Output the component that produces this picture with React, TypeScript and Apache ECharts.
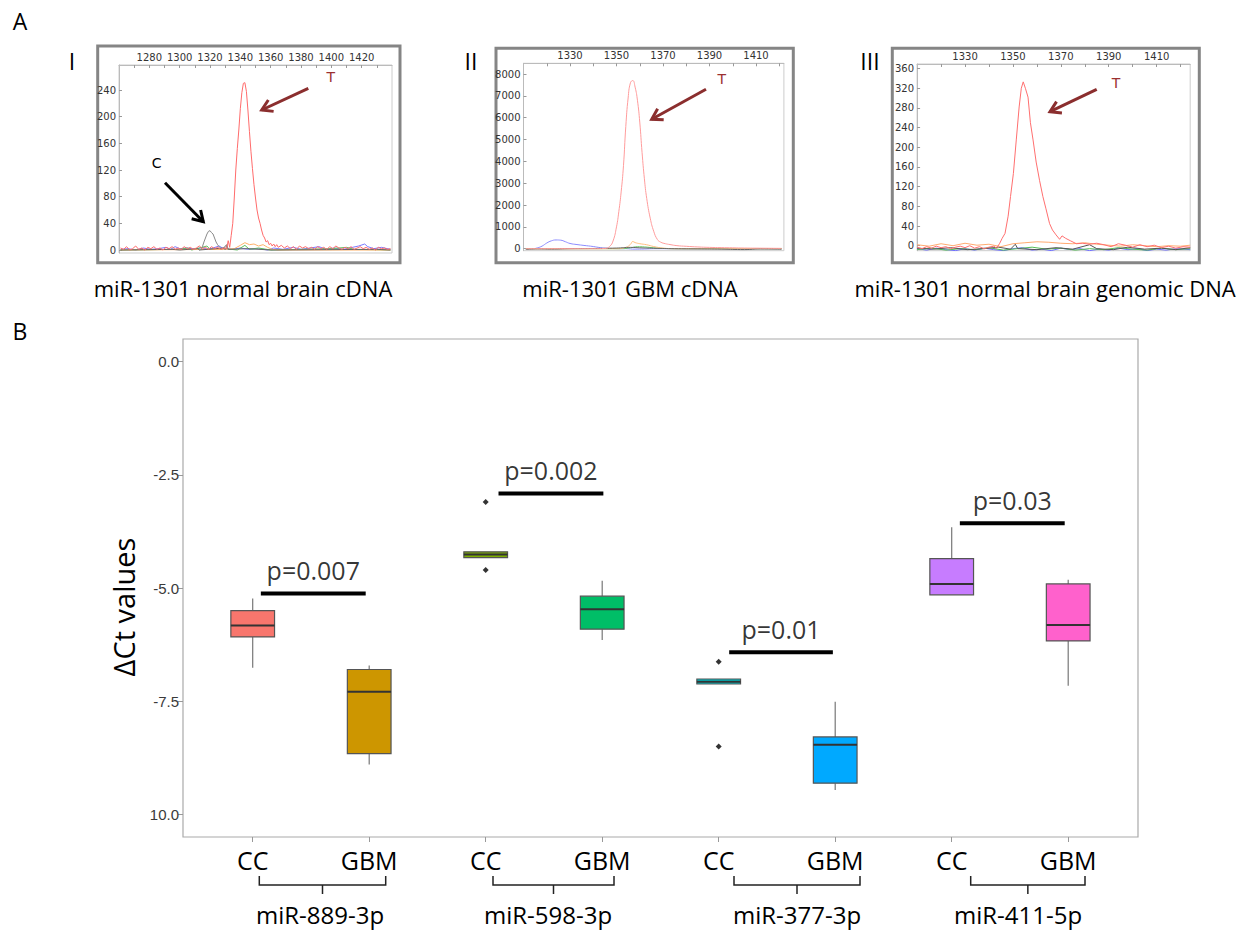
import React, { useEffect, useRef } from "react";
import * as echarts from "echarts";

// ---------- Panel B data ----------
const groups = ["miR-889-3p", "miR-598-3p", "miR-377-3p", "miR-411-5p"];
const categories = ["CC", "GBM", "CC", "GBM", "CC", "GBM", "CC", "GBM"];
const boxMin = [-6.76, -8.9, -4.33, -6.15, -7.12, -9.46, -5.15, -7.16];
const boxQ1 = [-6.08, -8.66, -4.33, -5.91, -7.12, -9.31, -5.15, -6.17];
const boxMedian = [-5.83, -7.29, -4.26, -5.47, -7.07, -8.46, -4.91, -5.82];
const boxQ3 = [-5.5, -6.8, -4.2, -5.18, -7.01, -8.29, -4.35, -4.91];
const boxMax = [-5.23, -6.71, -4.2, -4.84, -7.01, -7.51, -3.66, -4.82];
const outlierCat = [2, 2, 4, 4];
const outlierVal = [-3.1, -4.6, -6.63, -8.5];
const pTexts = ["p=0.007", "p=0.002", "p=0.01", "p=0.03"];
const pBarY = [-5.12, -2.91, -6.42, -3.57];
const pBarStart = [0.07, 2.11, 4.09, 6.07];
const pBarEnd = [0.97, 3.01, 4.98, 6.97];
const yTicksB = [0, -2.5, -5, -7.5, -10];

// ---------- Panel A data (position, intensity) ----------
const xLabelsI = [1280, 1300, 1320, 1340, 1360, 1380, 1400, 1420];
const yLabelsI = [0, 40, 80, 120, 160, 200, 240];
const xLabelsII = [1330, 1350, 1370, 1390, 1410];
const yLabelsII = [0, 1000, 2000, 3000, 4000, 5000, 6000, 7000, 8000];
const xLabelsIII = [1330, 1350, 1370, 1390, 1410];
const yLabelsIII = [0, 40, 80, 120, 160, 200, 240, 280, 320, 360];

const redI = [[1261,3],[1263,1],[1265,5],[1267,0],[1269,2],[1271,6],[1273,1],[1275,3],[1277,0],[1279,4],[1281,2],[1283,5],[1285,1],[1287,3],[1289,0],[1291,4],[1293,2],[1295,5],[1297,1],[1299,3],[1301,1],[1303,5],[1305,2],[1307,4],[1309,1],[1311,3],[1313,6],[1315,2],[1317,4],[1319,1],[1321,5],[1323,2],[1325,4],[1327,1],[1329,3],[1331,2],[1332,14],[1333,4],[1334,22],[1335,40],[1336,78],[1337,120],[1338,152],[1339,180],[1340,212],[1341,236],[1342,250],[1343,251],[1344,238],[1345,210],[1346,178],[1347,148],[1348,122],[1349,98],[1350,78],[1351,60],[1352,48],[1353,40],[1354,30],[1355,22],[1356,18],[1357,12],[1358,14],[1359,8],[1360,10],[1361,6],[1362,9],[1363,5],[1364,8],[1365,4],[1367,7],[1369,3],[1371,6],[1373,2],[1375,5],[1377,1],[1379,6],[1381,3],[1383,5],[1385,2],[1387,4],[1389,1],[1391,5],[1393,2],[1395,4],[1397,1],[1399,5],[1401,2],[1403,6],[1405,3],[1407,1],[1409,4],[1411,2],[1413,5],[1415,1],[1417,3],[1419,5],[1421,2],[1423,4],[1425,1],[1427,3],[1429,0],[1431,4],[1433,2],[1435,3],[1437,1],[1439,2]];
const grayI = [[1313,0],[1314,1],[1315,5],[1316,12],[1317,18],[1318,24],[1319,28],[1320,29],[1321,26],[1322,24],[1323,18],[1324,12],[1325,8],[1326,5],[1327,3],[1328,1],[1329,4],[1330,0],[1331,6],[1332,1]];
const blueI = [[1261,1],[1266,2],[1271,0],[1276,3],[1281,1],[1286,2],[1291,4],[1294,1],[1297,5],[1300,2],[1305,3],[1310,1],[1315,4],[1318,1],[1322,3],[1326,6],[1329,2],[1335,1],[1340,3],[1345,1],[1352,2],[1358,0],[1362,3],[1368,1],[1375,4],[1380,1],[1386,3],[1392,5],[1396,1],[1402,3],[1408,1],[1414,4],[1418,6],[1422,9],[1424,5],[1428,2],[1433,4],[1439,1]];
const greenI = [[1261,0],[1300,1],[1305,3],[1308,0],[1318,6],[1320,1],[1330,2],[1338,0],[1343,7],[1346,1],[1352,3],[1360,0],[1400,2],[1410,4],[1415,1],[1439,0]];
const orangeI = [[1261,0],[1330,1],[1336,2],[1340,7],[1343,11],[1346,8],[1349,9],[1352,6],[1355,8],[1358,4],[1361,1],[1365,0],[1439,0]];
const blackI = [[1261,0],[1295,1],[1300,0],[1312,2],[1313,0],[1329,3],[1331,8],[1332,1],[1345,2],[1360,0],[1430,1],[1439,0]];

const redII = [[1311,0],[1320,0],[1330,0],[1340,0],[1345,10],[1347,100],[1348.5,350],[1350,1000],[1351,1700],[1352,2600],[1353,3800],[1354,5600],[1355,6900],[1356,7600],[1357,7700],[1358,7400],[1359,6800],[1360,5800],[1361,4400],[1362,3200],[1363,2300],[1364.5,1400],[1366,800],[1367.6,420],[1369,300],[1371,230],[1373,190],[1376,140],[1380,110],[1385,80],[1390,60],[1395,50],[1400,40],[1405,30],[1410,25],[1415,20],[1421,15]];
const blueII = [[1311,0],[1314,0],[1316,40],[1318,120],[1320,260],[1322,360],[1324,400],[1326,390],[1328,320],[1330,240],[1333,190],[1336,150],[1340,100],[1343,50],[1346,20],[1350,5],[1354,0],[1358,-20],[1362,-15],[1366,0],[1421,0]];
const orangeII = [[1311,0],[1350,0],[1354,60],[1356,200],[1357,330],[1358,280],[1360,230],[1363,180],[1366,100],[1370,30],[1375,0],[1421,0]];
const greenII = [[1311,0],[1352,0],[1356,40],[1359,90],[1362,80],[1366,40],[1370,10],[1380,0],[1421,0]];
const blackII = [[1311,-30],[1316,-10],[1322,-20],[1330,0],[1340,10],[1350,30],[1356,60],[1360,40],[1366,20],[1375,0],[1385,-10],[1395,-20],[1405,-40],[1412,-10],[1421,-20]];

const redIII = [[1310,-3],[1312,-6],[1314,-2],[1316,-5],[1318,-1],[1320,-4],[1322,-2],[1324,-6],[1326,-3],[1328,-1],[1330,-4],[1332,0],[1334,-5],[1336,-2],[1338,-6],[1340,-3],[1342,-1],[1343.2,-5],[1344.5,5],[1345.5,15],[1346.7,25],[1348,60],[1349,100],[1350.2,147],[1351.4,215],[1352.6,282],[1353.5,320],[1354.3,333],[1355.2,320],[1356.3,302],[1357.3,250],[1358.4,215],[1359.7,170],[1361.1,133],[1362.5,100],[1363.8,75],[1365.3,45],[1366.5,32],[1368,22],[1369.5,13],[1370.5,20],[1372,15],[1374,10],[1376.5,4],[1379,5],[1382,3],[1385,5],[1388,2],[1391,-2],[1394,4],[1397,1],[1400,-3],[1403,2],[1406,-2],[1409,1],[1412,-4],[1415,-1],[1418,-5],[1421,-2],[1424,-3]];
const orangeIII = [[1310,2],[1315,-1],[1320,4],[1325,0],[1330,5],[1335,1],[1340,3],[1345,-2],[1350,4],[1355,6],[1360,8],[1365,7],[1370,5],[1375,4],[1380,6],[1385,3],[1390,1],[1395,-1],[1400,2],[1405,0],[1410,-2],[1415,0],[1420,-1],[1424,1]];
const blueIII = [[1310,-6],[1314,-9],[1318,-5],[1322,-8],[1326,-10],[1330,-6],[1334,-9],[1338,-5],[1342,-8],[1346,-10],[1350,-6],[1354,-4],[1358,-9],[1362,-7],[1366,-10],[1370,-5],[1374,-8],[1378,-6],[1382,-10],[1386,-7],[1390,-9],[1394,-5],[1398,-8],[1402,-6],[1406,-10],[1410,-7],[1414,-9],[1418,-6],[1424,-8]];
const greenIII = [[1310,-8],[1316,-5],[1322,-9],[1328,-6],[1334,-8],[1340,-4],[1346,-9],[1352,-6],[1358,-3],[1364,-7],[1370,-5],[1376,-9],[1382,-6],[1388,-8],[1394,-4],[1400,-7],[1406,-9],[1412,-5],[1418,-8],[1424,-6]];
const blackIII = [[1310,-5],[1317,-7],[1324,-4],[1331,-8],[1338,-6],[1344,-3],[1349,-7],[1351,3],[1352,-6],[1360,-8],[1368,-4],[1375,-7],[1382,2],[1385,-6],[1392,-8],[1398,-3],[1405,-7],[1412,-5],[1418,-8],[1424,-4]];

const boxColors = ["#F8766D", "#CD9600", "#7CAE00", "#00BE67", "#00BFC4", "#00A9FF", "#C77CFF", "#FF61CC"];

const OPEN = "'Open Sans', 'Noto Sans', sans-serif";
const ARIAL = "'Liberation Sans', Arial, sans-serif";
const DEJA = "'DejaVu Sans', sans-serif";

function arrow(x1: number, y1: number, x2: number, y2: number, color: string, w: number) {
  const ang = Math.atan2(y2 - y1, x2 - x1);
  const L = 12;
  const s = 0.55;
  const p1 = [x2 - L * Math.cos(ang - s), y2 - L * Math.sin(ang - s)];
  const p2 = [x2 - L * Math.cos(ang + s), y2 - L * Math.sin(ang + s)];
  return [
    { type: "line", shape: { x1, y1, x2, y2 }, style: { stroke: color, lineWidth: w } },
    { type: "polyline", shape: { points: [p1, [x2, y2], p2] }, style: { stroke: color, lineWidth: w, fill: null } },
  ];
}

function bracket(l: number, r: number, label: string, labelX: number) {
  const top = 876, bot = 885;
  const c = (l + r) / 2;
  return [
    { type: "polyline", shape: { points: [[l, top], [l, bot], [r, bot], [r, top]] }, style: { stroke: "#222", lineWidth: 1.5, fill: null } },
    { type: "line", shape: { x1: c, y1: bot, x2: c, y2: bot + 9 }, style: { stroke: "#222", lineWidth: 1.5 } },
    { type: "text", x: labelX, y: 914, style: { text: label, font: `24px ${OPEN}`, lineHeight: 26, fill: "#000", align: "center", verticalAlign: "middle" } },
  ];
}

function txt(x: number, y: number, text: string, size: number, color = "#000", family = OPEN) {
  return { type: "text", x, y, style: { text, font: `${size}px ${family}`, fill: color, align: "center", verticalAlign: "middle" } };
}

function frame(x: number, y: number, w: number, h: number) {
  return { type: "rect", shape: { x, y, width: w, height: h }, style: { stroke: "#858585", lineWidth: 3, fill: null } };
}

function tens(a: number, b: number) {
  const out: number[] = [];
  for (let v = a; v <= b; v += 10) out.push(v);
  return out;
}

const plain = (v: number) => String(v);

function chromXAxis(grid: number, min: number, max: number, labels: number[], ticks: number[]) {
  return {
    type: "value", gridIndex: grid, position: "top", min, max,
    axisLine: { show: true, onZero: false, lineStyle: { color: "#bbb" } },
    axisTick: { show: true, inside: true, length: 3, customValues: ticks, lineStyle: { color: "#999" } },
    axisLabel: { show: true, customValues: labels, fontSize: 10, fontFamily: DEJA, color: "#333", margin: 3, formatter: plain },
    splitLine: { show: false },
  };
}

function chromYAxis(grid: number, min: number, max: number, labels: number[]) {
  return {
    type: "value", gridIndex: grid, min, max,
    axisLine: { show: true, onZero: false, lineStyle: { color: "#bbb" } },
    axisTick: { show: true, inside: true, length: 3, customValues: labels, lineStyle: { color: "#999" } },
    axisLabel: { show: true, customValues: labels, fontSize: 10, fontFamily: DEJA, color: "#333", margin: 3, formatter: plain },
    splitLine: { show: false },
  };
}

function trace(idx: number, data: number[][], color: string, smooth = false, z = 2) {
  return {
    type: "line", xAxisIndex: idx, yAxisIndex: idx, data, showSymbol: false, symbol: "none",
    smooth, lineStyle: { color, width: 1 }, silent: true, z,
  };
}

export default function App() {
  const ref = useRef<HTMLDivElement>(null);
  useEffect(() => {
    if (!ref.current) return;
    const chart = echarts.init(ref.current, undefined, { renderer: "svg" });

    const boxData = categories.map((_, i) => [i, boxMin[i], boxQ1[i], boxMedian[i], boxQ3[i], boxMax[i]]);
    const outliers = outlierCat.map((c, i) => [c, outlierVal[i]]);

    const sigSeries = pTexts.map((_, i) => ({
      type: "line", xAxisIndex: 4, yAxisIndex: 3, symbol: "none",
      data: [[pBarStart[i], pBarY[i]], [pBarEnd[i], pBarY[i]]],
      lineStyle: { color: "#000", width: 4 }, silent: true, z: 5,
    }));

    const option: any = {
      animation: false,
      backgroundColor: "#fff",
      grid: [
        { left: 119, top: 65, width: 273, height: 188, show: true, borderColor: "#ccc", borderWidth: 1 },
        { left: 523.5, top: 63.3, width: 260.4, height: 187.4, show: true, borderColor: "#ccc", borderWidth: 1 },
        { left: 917.1, top: 64, width: 273.1, height: 186.7, show: true, borderColor: "#ccc", borderWidth: 1 },
        { left: 194.45, top: 339, width: 932, height: 498 },
        { left: 183, top: 339, width: 955, height: 498, show: true, borderColor: "#aaa", borderWidth: 1.2 },
      ],
      xAxis: [
        chromXAxis(0, 1260, 1440, xLabelsI, tens(1270, 1430)),
        chromXAxis(1, 1310, 1422, xLabelsII, tens(1320, 1420)),
        chromXAxis(2, 1310, 1424, xLabelsIII, tens(1320, 1420)),
        {
          type: "category", gridIndex: 3, data: categories, boundaryGap: true, position: "bottom",
          axisLine: { show: false, onZero: false },
          axisTick: { show: true, alignWithLabel: true, length: 5, lineStyle: { color: "#999" } },
          axisLabel: { fontSize: 25, fontFamily: OPEN, color: "#000", margin: 8, lineHeight: 30 },
        },
        { type: "value", gridIndex: 3, min: -0.5, max: 7.5, show: false },
        { type: "value", gridIndex: 4, min: 0, max: 1, show: false },
      ],
      yAxis: [
        chromYAxis(0, -4.5, 277.5, yLabelsI),
        chromYAxis(1, -91.6, 8490, yLabelsII),
        chromYAxis(2, -10.15, 369.3, yLabelsIII),
        { type: "value", gridIndex: 3, min: -10.5, max: 0.5, show: false },
        {
          type: "value", gridIndex: 4, min: -10.5, max: 0.5,
          axisLine: { show: false, onZero: false },
          axisTick: { show: true, length: 5, customValues: yTicksB, lineStyle: { color: "#999" } },
          axisLabel: {
            customValues: yTicksB, fontSize: 15, fontFamily: ARIAL, color: "#3a3a3a", margin: 4,
            formatter: (v: number) => (v === -10 ? "10.0" : v.toFixed(1)),
          },
          splitLine: { show: false },
        },
      ],
      series: [
        trace(0, blueI, "#7a7aff"),
        trace(0, greenI, "#5fbf5f"),
        trace(0, orangeI, "#ffb36b"),
        trace(0, blackI, "#666666"),
        trace(0, grayI, "#8a8a8a", false, 3),
        trace(0, redI, "#ff6b6b", false, 4),
        trace(1, blueII, "#8c8cff", true),
        trace(1, greenII, "#66c766", true),
        trace(1, orangeII, "#ffbf80", true),
        trace(1, blackII, "#666666", true),
        trace(1, redII, "#ff9c9c", true, 4),
        trace(2, blueIII, "#6e6eff"),
        trace(2, greenIII, "#55bb55"),
        trace(2, blackIII, "#555555"),
        trace(2, orangeIII, "#ffaa70"),
        trace(2, redIII, "#ff6f6f", false, 4),
        {
          type: "custom", xAxisIndex: 3, yAxisIndex: 3, data: boxData,
          encode: { x: 0, y: [1, 2, 3, 4, 5] }, z: 4,
          renderItem: (params: any, api: any) => {
            const x = api.value(0);
            const lo = api.coord([x, api.value(1)]);
            const q1 = api.coord([x, api.value(2)]);
            const med = api.coord([x, api.value(3)]);
            const q3 = api.coord([x, api.value(4)]);
            const hi = api.coord([x, api.value(5)]);
            const bw = api.size([1, 0])[0] * 0.375;
            const cx = lo[0];
            const color = boxColors[params.dataIndex];
            return {
              type: "group",
              children: [
                { type: "line", shape: { x1: cx, y1: hi[1], x2: cx, y2: q3[1] }, style: { stroke: "#777", lineWidth: 1.2 } },
                { type: "line", shape: { x1: cx, y1: q1[1], x2: cx, y2: lo[1] }, style: { stroke: "#777", lineWidth: 1.2 } },
                { type: "rect", shape: { x: cx - bw / 2, y: q3[1], width: bw, height: Math.max(q1[1] - q3[1], 1) }, style: { fill: color, stroke: "#555", lineWidth: 1.2 } },
                { type: "line", shape: { x1: cx - bw / 2, y1: med[1], x2: cx + bw / 2, y2: med[1] }, style: { stroke: "#333", lineWidth: 2 } },
              ],
            };
          },
        },
        {
          type: "scatter", xAxisIndex: 3, yAxisIndex: 3, data: outliers,
          symbol: "diamond", symbolSize: 6, itemStyle: { color: "#000" }, z: 5, silent: true,
        },
        ...sigSeries,
        {
          type: "scatter", xAxisIndex: 4, yAxisIndex: 3, symbolSize: 0, silent: true, z: 6,
          data: pTexts.map((t, i) => ({ name: t, value: [(pBarStart[i] + pBarEnd[i]) / 2, pBarY[i]] })),
          label: {
            show: true, position: "top", distance: 8, formatter: "{b}",
            fontSize: 25, fontFamily: OPEN, color: "#000", lineHeight: 30,
          },
        },
      ],
      graphic: [
        txt(20, 21, "A", 23),
        txt(20, 331, "B", 23),
        txt(72, 61, "I", 23),
        txt(471, 61, "II", 23),
        txt(870, 61, "III", 23),
        frame(97.7, 46, 302.3, 216.7),
        frame(496, 48.3, 297.3, 214.4),
        frame(892.3, 48.3, 307, 214.4),
        txt(243, 288, "miR-1301 normal brain cDNA", 22),
        txt(630, 288, "miR-1301 GBM cDNA", 22),
        txt(1045, 288, "miR-1301 normal brain genomic DNA", 22),
        ...arrow(308.3, 88.3, 261.7, 110, "#8b2e2e", 3),
        txt(330.7, 77.3, "T", 14, "#9b3030", DEJA),
        ...arrow(165, 182.7, 203.3, 221.7, "#000", 3),
        txt(156.7, 162.7, "C", 14, "#000", DEJA),
        ...arrow(706, 89.3, 651.7, 119.3, "#8b2e2e", 3),
        txt(721.7, 79.3, "T", 14, "#9b3030", DEJA),
        ...arrow(1096.7, 89.3, 1050, 111.7, "#8b2e2e", 3),
        txt(1116, 83.3, "T", 14, "#9b3030", DEJA),
        {
          type: "text", x: 123, y: 607, rotation: Math.PI / 2,
          style: { text: "ΔCt values", font: `29px ${OPEN}`, fill: "#000", align: "center", verticalAlign: "middle" },
        },
        ...bracket(259.3, 385.7, groups[0], 320),
        ...bracket(493, 614, groups[1], 548),
        ...bracket(734, 860, groups[2], 797),
        ...bracket(970.7, 1085, groups[3], 1018),
      ],
    };
    chart.setOption(option);
    return () => chart.dispose();
  }, []);
  return <div ref={ref} style={{ position: "absolute", left: 0, top: 0, width: 1237, height: 930 }} />;
}
